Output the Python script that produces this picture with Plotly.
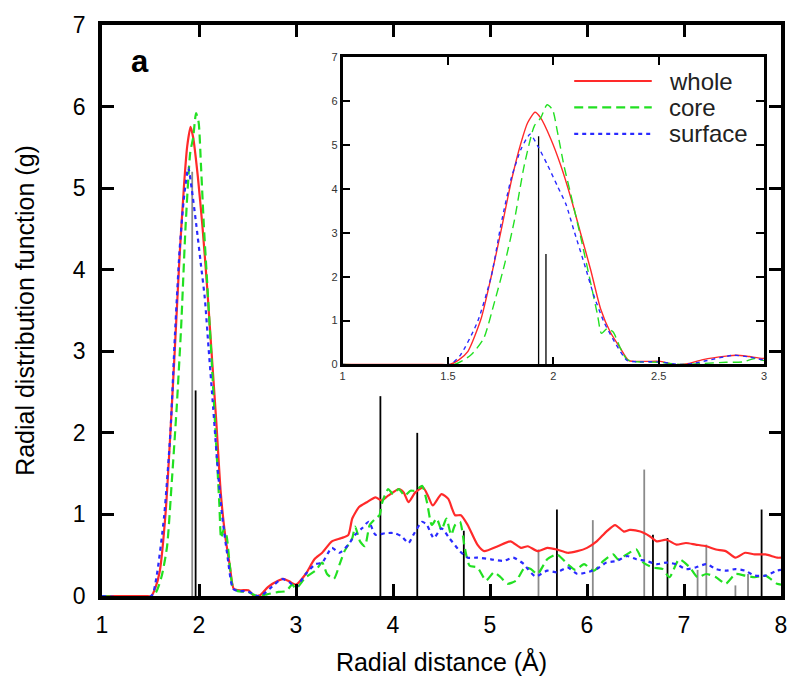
import plotly.graph_objects as go

# ---------------- data ----------------
series_names = ["whole", "core", "surface"]

r_whole = [1.0, 1.45, 1.508, 1.55, 1.595, 1.657, 1.705, 1.752, 1.80, 1.847, 1.878, 1.913, 1.94,
           1.988, 2.035, 2.083, 2.13, 2.177, 2.224, 2.27, 2.318, 2.358, 2.43, 2.51, 2.57, 2.63,
           2.71, 2.82, 2.87, 2.93, 3.0, 3.10, 3.19, 3.27, 3.37, 3.47, 3.54, 3.58, 3.65, 3.73,
           3.82, 3.88, 3.95, 4.06, 4.11, 4.16, 4.23, 4.31, 4.36, 4.41, 4.50, 4.57, 4.64, 4.70,
           4.77, 4.87, 4.94, 5.08, 5.21, 5.32, 5.39, 5.49, 5.59, 5.69, 5.80, 5.90, 6.0, 6.10,
           6.20, 6.29, 6.38, 6.44, 6.55, 6.65, 6.72, 6.82, 6.92, 7.02, 7.12, 7.23, 7.33, 7.43,
           7.53, 7.63, 7.73, 7.84, 7.96, 8.0]
g_whole = [0.0, 0.0, 0.0, 0.1, 0.3, 1.04, 2.0, 3.05, 4.17, 5.06, 5.51, 5.75, 5.62,
           5.14, 4.54, 3.8, 2.98, 2.16, 1.27, 0.74, 0.37, 0.09, 0.07, 0.07, 0.0, 0.01,
           0.11, 0.19, 0.21, 0.18, 0.14, 0.27, 0.45, 0.53, 0.67, 0.71, 0.75, 0.95, 1.09, 1.15,
           1.21, 1.17, 1.23, 1.31, 1.27, 1.15, 1.27, 1.33, 1.23, 1.11, 1.25, 1.19, 0.99, 0.99,
           0.87, 0.63, 0.55, 0.61, 0.67, 0.59, 0.61, 0.55, 0.59, 0.57, 0.53, 0.55, 0.59, 0.67,
           0.79, 0.87, 0.79, 0.81, 0.79, 0.73, 0.67, 0.69, 0.63, 0.65, 0.63, 0.61, 0.57, 0.55,
           0.47, 0.53, 0.51, 0.51, 0.47, 0.47]

r_core = [1.0, 1.53, 1.61, 1.67, 1.72, 1.77, 1.815, 1.862, 1.91, 1.94, 1.97, 1.996, 2.02, 2.05,
          2.083, 2.13, 2.177, 2.21, 2.228, 2.256, 2.284, 2.318, 2.35, 2.4, 2.5, 2.6, 2.7, 2.82,
          2.9, 2.96, 3.0, 3.10, 3.20, 3.27, 3.32, 3.39, 3.45, 3.50, 3.58, 3.61, 3.66, 3.71, 3.76,
          3.82, 3.86, 3.89, 3.95, 4.0, 4.06, 4.12, 4.18, 4.23, 4.30, 4.35, 4.40, 4.45, 4.50,
          4.55, 4.60, 4.64, 4.69, 4.74, 4.79, 4.87, 4.96, 5.04, 5.11, 5.18, 5.27, 5.36, 5.42,
          5.49, 5.59, 5.69, 5.80, 5.88, 5.97, 6.07, 6.17, 6.27, 6.32, 6.41, 6.51, 6.58, 6.68,
          6.78, 6.85, 6.95, 7.06, 7.14, 7.23, 7.33, 7.43, 7.53, 7.63, 7.73, 7.84, 7.96, 8.0]
g_core = [0.0, 0.0, 0.22, 0.6, 1.41, 2.31, 3.28, 4.54, 5.44, 5.62, 5.92, 5.81, 5.29, 4.54,
          3.87, 2.9, 1.86, 1.12, 0.71, 0.82, 0.74, 0.37, 0.11, 0.06, 0.05, 0.0, 0.02, 0.05,
          0.06, 0.14, 0.09, 0.23, 0.31, 0.41, 0.27, 0.21, 0.39, 0.55, 0.71, 0.85, 0.67, 0.61, 0.87,
          0.95, 0.99, 1.15, 1.31, 1.25, 1.31, 1.23, 1.29, 1.29, 1.35, 1.15, 0.87, 0.95, 0.81,
          0.95, 0.75, 0.87, 0.91, 0.59, 0.37, 0.35, 0.19, 0.29, 0.23, 0.15, 0.19, 0.35, 0.33,
          0.27, 0.45, 0.51, 0.39, 0.32, 0.39, 0.31, 0.43, 0.51, 0.45, 0.51, 0.57, 0.41, 0.35,
          0.33, 0.23, 0.45, 0.35, 0.23, 0.27, 0.23, 0.15, 0.27, 0.25, 0.23, 0.25, 0.15, 0.14]

r_surface = [1.0, 1.508, 1.56, 1.64, 1.705, 1.752, 1.80, 1.847, 1.89, 1.925, 1.973, 2.02, 2.06,
             2.098, 2.146, 2.193, 2.24, 2.29, 2.35, 2.4, 2.5, 2.6, 2.66, 2.73, 2.855, 2.93, 3.0,
             3.10, 3.20, 3.27, 3.37, 3.45, 3.54, 3.61, 3.68, 3.75, 3.82, 3.92, 4.02, 4.09, 4.16,
             4.21, 4.30, 4.35, 4.42, 4.50, 4.58, 4.69, 4.77, 4.87, 5.01, 5.14, 5.24, 5.35, 5.39,
             5.47, 5.59, 5.69, 5.80, 5.90, 6.0, 6.10, 6.20, 6.31, 6.41, 6.51, 6.61, 6.72, 6.82,
             6.92, 7.02, 7.12, 7.23, 7.33, 7.43, 7.53, 7.63, 7.73, 7.84, 7.96, 8.0]
g_surface = [0.0, 0.0, 0.22, 0.97, 2.0, 3.2, 4.24, 4.91, 5.25, 4.99, 4.54, 4.06, 3.65,
             3.05, 2.31, 1.56, 0.97, 0.52, 0.09, 0.06, 0.06, 0.0, 0.02, 0.09, 0.21, 0.17, 0.11,
             0.27, 0.39, 0.41, 0.59, 0.53, 0.63, 0.75, 0.83, 0.91, 0.75, 0.77, 0.77, 0.73, 0.65,
             0.75, 0.91, 0.87, 0.71, 0.83, 0.71, 0.55, 0.47, 0.47, 0.45, 0.43, 0.47, 0.39, 0.33,
             0.24, 0.31, 0.29, 0.35, 0.27, 0.29, 0.33, 0.41, 0.43, 0.49, 0.45, 0.43, 0.39, 0.41,
             0.39, 0.33, 0.35, 0.39, 0.33, 0.31, 0.33, 0.31, 0.25, 0.25, 0.31, 0.32]

# reference stick positions / heights ("g" = gray, "k" = black)
stick_r = [1.93, 1.965, 3.87, 4.25, 4.73, 5.50, 5.69, 6.06, 6.59, 6.68, 6.83, 7.14, 7.23, 7.53, 7.66, 7.80]
stick_h = [5.2, 2.52, 2.45, 2.0, 0.8, 0.57, 1.06, 0.93, 1.55, 0.75, 0.71, 0.32, 0.63, 0.13, 0.27, 1.06]
stick_c = ["g", "k", "k", "k", "k", "g", "k", "g", "g", "k", "k", "g", "g", "g", "g", "k"]

x_ticks_main = [1, 2, 3, 4, 5, 6, 7, 8]
y_ticks_main = [0, 1, 2, 3, 4, 5, 6, 7]
x_ticks_inset = [1, 1.5, 2, 2.5, 3]
x_ticklabels_inset = ["1", "1.5", "2", "2.5", "3"]
y_ticks_inset = [0, 1, 2, 3, 4, 5, 6, 7]

# ---------------- style ----------------
colors = ["#ff2a2a", "#22e022", "#2a2aff"]
dashes = ["solid", "9px,5px", "4px,4px"]
xs = [r_whole, r_core, r_surface]
ys = [g_whole, g_core, g_surface]
FONT = "Liberation Sans, Arial, sans-serif"


def stick_segments(kind, xmax=None):
    sx, sy = [], []
    for r, h, c in zip(stick_r, stick_h, stick_c):
        if (kind is None or c == kind) and (xmax is None or r <= xmax):
            sx += [r, r, None]
            sy += [0, h, None]
    return sx, sy


fig = go.Figure()

# main sticks
for kind, col in [("g", "#8a8a8a"), ("k", "#000000")]:
    sx, sy = stick_segments(kind)
    fig.add_trace(go.Scatter(x=sx, y=sy, mode="lines", line=dict(color=col, width=1.8),
                             showlegend=False, hoverinfo="skip", xaxis="x", yaxis="y"))

# main curves
for i in range(3):
    fig.add_trace(go.Scatter(x=xs[i], y=ys[i], mode="lines", name=series_names[i],
                             line=dict(color=colors[i], width=2.2, dash=dashes[i],
                                       shape="spline", smoothing=0.6),
                             showlegend=False, xaxis="x", yaxis="y"))

# inset sticks
sx, sy = stick_segments(None, xmax=3)
fig.add_trace(go.Scatter(x=sx, y=sy, mode="lines", line=dict(color="#000000", width=1.3),
                         showlegend=False, hoverinfo="skip", xaxis="x2", yaxis="y2"))
# inset curves
for i in range(3):
    fig.add_trace(go.Scatter(x=xs[i], y=ys[i], mode="lines", name=series_names[i],
                             line=dict(color=colors[i], width=1.4, dash=dashes[i],
                                       shape="spline", smoothing=0.6),
                             showlegend=False, xaxis="x2", yaxis="y2"))

# legend inside inset (drawn with shapes + text)
leg_y = [0.923, 0.837, 0.751]
for i in range(3):
    fig.add_shape(type="line", xref="x2 domain", yref="y2 domain",
                  x0=0.5495, x1=0.7335, y0=leg_y[i], y1=leg_y[i],
                  line=dict(color=colors[i], width=2.2, dash=dashes[i]))
    fig.add_annotation(xref="x2 domain", yref="y2 domain", x=0.769, y=leg_y[i],
                       xanchor="left", yanchor="middle", text=series_names[i],
                       showarrow=False, font=dict(family=FONT, size=24, color="#222222"))

fig.add_annotation(xref="paper", yref="paper", x=(140 - 102) / 683, y=(599 - 54) / 582,
                   text="<b>a</b>", showarrow=False, xanchor="center", yanchor="middle",
                   font=dict(family=FONT, size=31, color="#000000"))

fig.update_layout(
    width=799, height=685,
    margin=dict(l=102, r=14, t=17, b=86),
    paper_bgcolor="white", plot_bgcolor="white",
    font=dict(family=FONT, color="#000000"),
    xaxis=dict(range=[1, 8], tickmode="array", tickvals=x_ticks_main,
               ticks="inside", ticklen=12, tickwidth=2.5, tickcolor="#000",
               showline=True, linewidth=3.5, linecolor="#000", mirror="ticks",
               showgrid=False, zeroline=False,
               tickfont=dict(size=23), ticklabelstandoff=6,
               title=dict(text="Radial distance (Å)", font=dict(size=25), standoff=17)),
    yaxis=dict(range=[0, 7], tickmode="array", tickvals=y_ticks_main,
               ticks="inside", ticklen=12, tickwidth=2.5, tickcolor="#000",
               showline=True, linewidth=3.5, linecolor="#000", mirror="ticks",
               showgrid=False, zeroline=False,
               tickfont=dict(size=23), ticklabelstandoff=8,
               title=dict(text="Radial distribution function (g)", font=dict(size=25), standoff=32)),
    xaxis2=dict(domain=[(344 - 102) / 683, (768 - 102) / 683], anchor="y2",
                range=[1, 3], tickmode="array", tickvals=x_ticks_inset, ticktext=x_ticklabels_inset,
                ticks="inside", ticklen=8, tickwidth=1.8, tickcolor="#000",
                showline=True, linewidth=2.5, linecolor="#000", mirror="ticks",
                showgrid=False, zeroline=False,
                tickfont=dict(size=11, color="#333333")),
    yaxis2=dict(domain=[(599 - 363) / 582, (599 - 50) / 582], anchor="x2",
                range=[0, 7], tickmode="array", tickvals=y_ticks_inset,
                ticks="inside", ticklen=8, tickwidth=1.8, tickcolor="#000",
                showline=True, linewidth=2.5, linecolor="#000", mirror="ticks",
                showgrid=False, zeroline=False,
                tickfont=dict(size=11, color="#333333")),
)

fig.write_html("out.html")
